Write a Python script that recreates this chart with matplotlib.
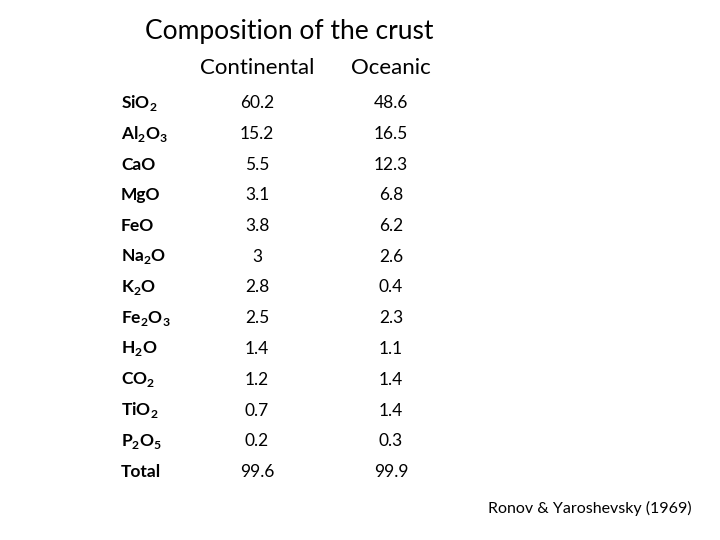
import matplotlib
matplotlib.use("Agg")
import matplotlib.pyplot as plt

plt.rcParams['font.family'] = ['Lato', 'DejaVu Sans']
plt.rcParams['mathtext.fontset'] = 'custom'
plt.rcParams['mathtext.rm'] = 'Lato'
plt.rcParams['mathtext.bf'] = 'Lato:bold'

oxides = [r'SiO$_\mathbf{2}$', r'Al$_\mathbf{2}$O$_\mathbf{3}$', 'CaO', 'MgO', 'FeO',
          r'Na$_\mathbf{2}$O', r'K$_\mathbf{2}$O', r'Fe$_\mathbf{2}$O$_\mathbf{3}$',
          r'H$_\mathbf{2}$O', r'CO$_\mathbf{2}$', r'TiO$_\mathbf{2}$',
          r'P$_\mathbf{2}$O$_\mathbf{5}$', 'Total']
continental = ['60.2', '15.2', '5.5', '3.1', '3.8', '3', '2.8', '2.5', '1.4', '1.2', '0.7', '0.2', '99.6']
oceanic = ['48.6', '16.5', '12.3', '6.8', '6.2', '2.6', '0.4', '2.3', '1.1', '1.4', '1.4', '0.3', '99.9']

fig = plt.figure(figsize=(7.2, 5.4), dpi=100)
W, H = 720, 540

def put(x, y, s, **kw):
    fig.text(x / W, 1 - y / H, s, va='center', **kw)

put(289, 32, 'Composition of the crust', ha='center', fontsize=19)
put(257, 68, 'Continental', ha='center', fontsize=16)
put(391, 68, 'Oceanic', ha='center', fontsize=16)

y0, dy = 103, 30.75
for i, (ox, c, o) in enumerate(zip(oxides, continental, oceanic)):
    y = y0 + i * dy
    put(121, y, ox, ha='left', fontsize=12.5, fontweight='bold')
    put(257, y, c, ha='center', fontsize=12.5)
    put(391, y, o, ha='center', fontsize=12.5)

put(692, 508, 'Ronov & Yaroshevsky (1969)', ha='right', fontsize=11.5)

fig.savefig('out.png', dpi=100)
